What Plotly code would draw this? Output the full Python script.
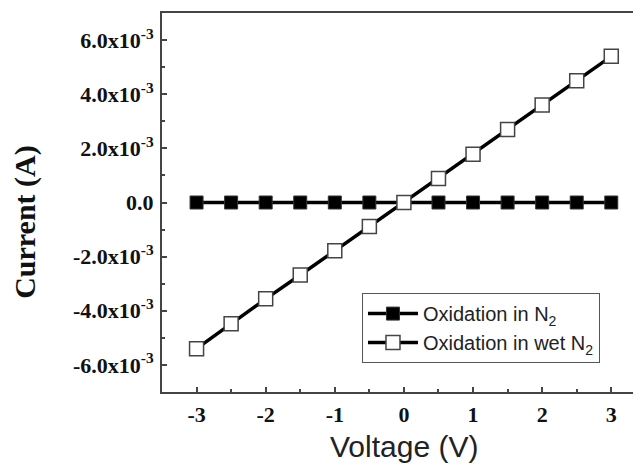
import plotly.graph_objects as go

voltage = [-3, -2.5, -2, -1.5, -1, -0.5, 0, 0.5, 1, 1.5, 2, 2.5, 3]
current_n2 = [0, 0, 0, 0, 0, 0, 0, 0, 0, 0, 0, 0, 0]
current_wet_n2 = [-5.4e-3, -4.48e-3, -3.56e-3, -2.68e-3, -1.78e-3, -0.89e-3, 0,
                  0.89e-3, 1.78e-3, 2.7e-3, 3.6e-3, 4.5e-3, 5.4e-3]

y_tick_vals = [-6e-3, -4e-3, -2e-3, 0, 2e-3, 4e-3, 6e-3]
y_tick_text = ["-6.0x10<sup>-3</sup>", "-4.0x10<sup>-3</sup>", "-2.0x10<sup>-3</sup>", "0.0",
               "2.0x10<sup>-3</sup>", "4.0x10<sup>-3</sup>", "6.0x10<sup>-3</sup>"]
x_tick_vals = [-3, -2, -1, 0, 1, 2, 3]
x_tick_text = ["-3", "-2", "-1", "0", "1", "2", "3"]

fig = go.Figure()
fig.add_trace(go.Scatter(x=voltage, y=current_n2, mode='lines+markers',
                         name="Oxidation in N<sub>2</sub>",
                         line=dict(color='black', width=3.5),
                         marker=dict(symbol='square', size=13, color='black',
                                     line=dict(color='#333333', width=1))))
fig.add_trace(go.Scatter(x=voltage, y=current_wet_n2, mode='lines+markers',
                         name="Oxidation in wet N<sub>2</sub>",
                         line=dict(color='black', width=3.5),
                         marker=dict(symbol='square', size=14, color='white',
                                     line=dict(color='#444444', width=1.5))))

tick_font = dict(family="Liberation Serif", size=22, color='#111111')
axis_col = '#444444'
# the page body adds an 8px offset, so the figure is sized to fill the rest of the window
fig.update_layout(
    width=633, height=459,
    margin=dict(l=154, r=0, t=5, b=75),
    paper_bgcolor='white', plot_bgcolor='white',
    showlegend=True,
    legend=dict(x=0.4175, y=0.261, xanchor='left', yanchor='top',
                bgcolor='white', bordercolor='#555555', borderwidth=1,
                font=dict(family="Liberation Sans", size=20, color='#222222'),
                itemwidth=50, tracegroupgap=0),
    xaxis=dict(range=[-3.5, 3.43], tickvals=x_tick_vals,
               ticktext=["<b>" + t + "</b>" for t in x_tick_text],
               ticks='inside', ticklen=5, tickwidth=1.5, tickcolor=axis_col,
               minor=dict(tickvals=[-2.5, -1.5, -0.5, 0.5, 1.5, 2.5], ticks='inside',
                          ticklen=3, tickwidth=1.5, tickcolor=axis_col),
               showline=True, linecolor=axis_col, linewidth=2, mirror=True,
               showgrid=False, zeroline=False, automargin=False,
               tickfont=tick_font, ticklabelstandoff=2),
    yaxis=dict(range=[-7e-3, 7e-3], tickvals=y_tick_vals,
               ticktext=["<b>" + t + "</b>" for t in y_tick_text],
               ticks='inside', ticklen=5, tickwidth=1.5, tickcolor=axis_col,
               minor=dict(tickvals=[-5e-3, -3e-3, -1e-3, 1e-3, 3e-3, 5e-3], ticks='inside',
                          ticklen=3, tickwidth=1.5, tickcolor=axis_col),
               showline=True, linecolor=axis_col, linewidth=2, mirror=False,
               showgrid=False, zeroline=False, automargin=False,
               tickfont=tick_font, ticklabelstandoff=2),
)
fig.add_annotation(text="Voltage (V)", xref='paper', yref='paper', x=0.505, y=-0.145,
                   xanchor='center', yanchor='middle', showarrow=False,
                   font=dict(family="Liberation Sans", size=30, color='#222222'))
fig.add_annotation(text="<b>Current (A)</b>", xref='paper', yref='paper', x=-0.286, y=0.449,
                   xanchor='center', yanchor='middle', textangle=-90, showarrow=False,
                   font=dict(family="Liberation Serif", size=30, color='#111111'))

fig.write_html("out.html")
